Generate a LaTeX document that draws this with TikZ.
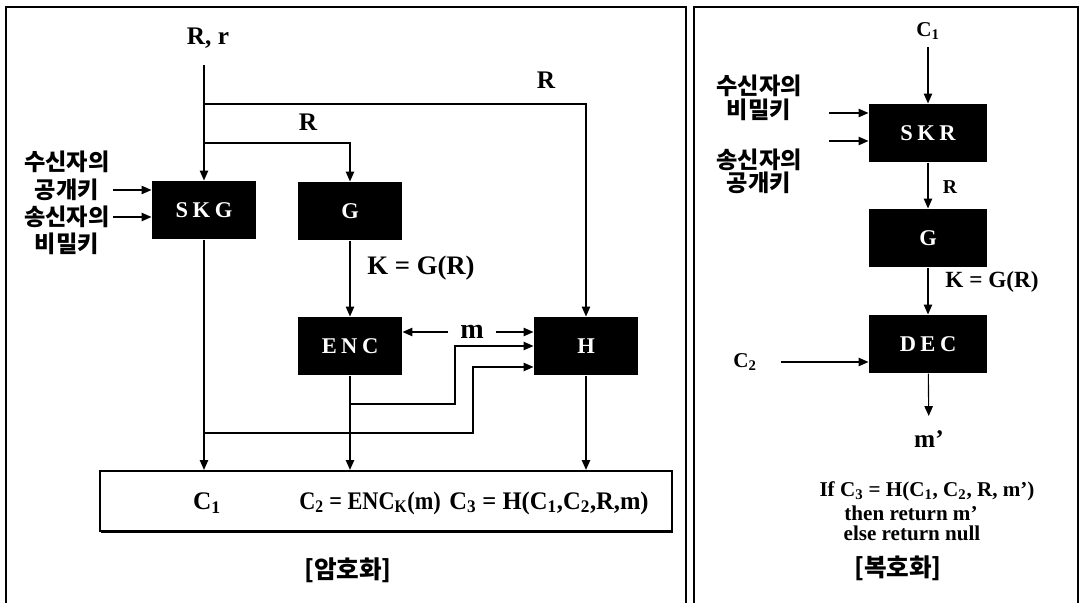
\documentclass[tikz,border=0pt]{standalone}
\usepackage{fontspec}
\setmainfont{Liberation Serif}
\newfontfamily\korfont{Noto Sans CJK KR}
\usepackage{tikz}
\usetikzlibrary{arrows.meta,positioning,calc,shadows}
\newcommand{\ptsize}[1]{\fontsize{#1}{#1}\selectfont}

\begin{document}
\begin{tikzpicture}[
  x=0.025cm,y=-0.025cm,line width=0.8pt,
  blk/.style={fill=black,text=white,inner sep=0pt,minimum height=1.45cm,
    font=\ptsize{16}\bfseries\addfontfeature{LetterSpace=20}},
  lblk/.style={blk,minimum width=2.6cm},
  rblk/.style={blk,minimum width=2.95cm},
  lbl/.style={font=\ptsize{18}\bfseries,inner sep=1pt},
  rlbl/.style={font=\ptsize{15}\bfseries,inner sep=1pt},
  kor/.style={font=\ptsize{16.5}\korfont\bfseries,inner sep=1pt},
  title/.style={font=\ptsize{17.5}\korfont\bfseries,inner sep=1pt},
  panel/.style={line width=2pt},
  outbox/.style={draw,fill=white,line width=1.6pt,minimum width=14.3cm,minimum height=1.5cm,
    drop shadow={opacity=1,fill=black,shadow xshift=1pt,shadow yshift=-1.5pt}},
  >={Triangle[length=7pt,width=6pt]}]
\useasboundingbox (0,0) rectangle (1081,603);
% panels
\draw[panel] (6,603) -- (6,7) -- (686,7) -- (686,603);
\draw[panel] (694,603) -- (694,7) -- (1078,7) -- (1078,603);

% --- encryption
\node[lbl] (Rr) at (208,38) {R, r};
\node[lblk] (skg) at (204,210) {SKG};
\node[lblk] (g) at (350,211) {G};
\node[lblk] (enc) at (350,346) {ENC};
\node[lblk] (h) at (586,346) {H};
\node[outbox] (out) at (386,501) {};
\node[lbl] (c1t) at (207,503) {C\textsubscript{1}};
\node[lbl] (c2t) at (370,503) {\scalebox{0.88}[1]{C\textsubscript{2} = ENC\textsubscript{K}(m)}};
\node[lbl] (c3t) at (549,503) {\scalebox{0.97}[1]{C\textsubscript{3} = H(C\textsubscript{1},C\textsubscript{2},R,m)}};
\node[title] (enclab) at (348,570) {[암호화]};

\node[lbl] (rlab1) at (546,80) {R};
\node[lbl] (rlab2) at (308,122) {R};
\node[lbl,font=\ptsize{19}\bfseries] (klab) at (421,268) {K = G(R)};
\node[lbl,font=\ptsize{20}\bfseries,inner xsep=8pt] (m) at (472,332) {m};

\node[kor,text width=2.2cm,align=center] (rcv) at (67,162) {수신자의};
\node[kor,text width=2.2cm,align=center] (pubk) at (67,190) {공개키};
\node[kor,text width=2.2cm,align=center] (snd) at (67,217) {송신자의};
\node[kor,text width=2.2cm,align=center] (privk) at (67,244) {비밀키};

\coordinate (src) at (204,65);
\coordinate (j1) at (204,104);
\coordinate (j2) at (204,143);
\coordinate (encj) at (350,404);
\coordinate (skgj) at (204,433);

\draw[->] (src) -- (skg);
\draw[->] (j1) -| (h);
\draw[->] (j2) -| (g);
\draw[->] (pubk.east) -- (pubk.east -| skg.west);
\draw[->] (snd.east) -- (snd.east -| skg.west);
\draw[->] (g) -- (enc);
\draw[->] (m.west) -- (m.west -| enc.east);
\draw[->] (m.east) -- (m.east -| h.west);
\draw[->] (encj) -- (455,404) -- (455,346) -- (h.west);
\draw[->] (skgj) -- (473,433) -- (473,367) -- (h.west |- 0,367);
\draw[->] (skg) -- (skg |- out.north);
\draw[->] (enc) -- (enc |- out.north);
\draw[->] (h) -- (h |- out.north);

% --- decryption
\node[rlbl] (c1in) at (928,31) {C\textsubscript{1}};
\node[rblk] (skr) at (928,133) {SKR};
\node[rblk] (g2) at (928,238) {G};
\node[rblk] (dec) at (928,344) {DEC};
\node[rlbl] (c2in) at (745,362) {C\textsubscript{2}};
\node[lbl] (mout) at (929,439) {m’};
\node[rlbl,font=\ptsize{14}\bfseries] (rlab3) at (950,187) {R};
\node[rlbl,font=\ptsize{16.5}\bfseries] (klab2) at (992,282) {K = G(R)};
\node[rlbl] (chk1) at (927,491) {If C\textsubscript{3} = H(C\textsubscript{1}, C\textsubscript{2}, R, m’)};
\node[rlbl] (chk2) at (911,513) {then return m’};
\node[rlbl] (chk3) at (912,533) {else return null};
\node[title] (declab) at (898,568) {[복호화]};

\node[kor] (rcv2) at (759,86) {수신자의};
\node[kor] (privk2) at (759,110) {비밀키};
\node[kor] (snd2) at (759,160) {송신자의};
\node[kor] (pubk2) at (759,183) {공개키};

\coordinate (kin1) at (829,113);
\coordinate (kin2) at (829,141);

\draw[->,shorten <=4pt] (c1in) -- (skr);
\draw[->] (kin1) -- (kin1 -| skr.west);
\draw[->] (kin2) -- (kin2 -| skr.west);
\draw[->] (skr) -- (g2);
\draw[->] (g2) -- (dec);
\draw[->,shorten <=16pt] (c2in.east) -- (c2in.east -| dec.west);
\draw[->,shorten >=9pt] (dec) -- (mout);
\end{tikzpicture}
\end{document}
